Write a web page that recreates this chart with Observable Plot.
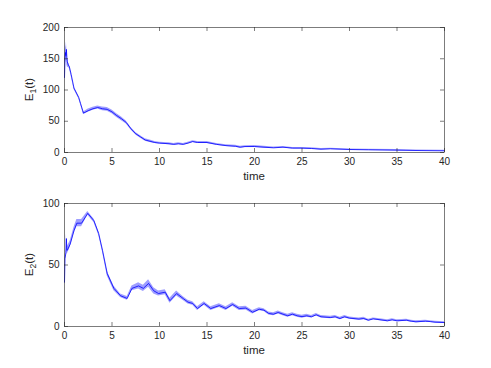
<!DOCTYPE html>
<html><head><meta charset="utf-8">
<script src="https://cdn.jsdelivr.net/npm/d3@7"></script>
<script src="https://cdn.jsdelivr.net/npm/@observablehq/plot@0.6"></script>
<style>body{margin:0;background:#fff} #c{width:491px;height:368px;} svg{display:block}</style>
</head><body><div id="c"></div><script>
const xTicks = [0,5,10,15,20,25,30,35,40];
const y1Ticks = [0,50,100,150,200];
const y2Ticks = [0,50,100];

const t1 = [0,0.05,0.1,0.15,0.2,0.25,0.3,0.4,0.5,0.7,1,1.5,1.7,2,2.5,3,3.5,4,4.5,5,5.5,6,6.5,7,7.5,8,8.5,9,9.5,10,11,11.5,12,12.5,13,13.5,14,15,16,17,18,18.5,19,20,21,22,23,24,25,26,27,28,30,32,35,37,40];
const e1 = [120,150,160,155,165,152,145,140,138,125,103,88,78,63,67,70,72,70,69,65,59,54,48,38,30,25,20,18,16,15,14,13,14,13,15,17.5,16,16,13,11,10,8.5,9.5,9.6,8.5,7.5,8.5,7,7,6.4,5.3,5.9,4.8,4.3,3.7,3.2,2.7];
const e1Amp = [10,12,12,12,12,12,8,4,3,2.5,2,2,2,2,2.5,2.5,2.5,3,3,3,3,3,2.5,2,2,2,2,2,1.5,1.5,1.5,1.5,1.5,1.5,1.5,1.5,1.5,1.5,1.5,1.5,1.5,1.5,1.5,1.5,1.5,1.2,1.2,1.2,1.2,1.2,1.2,1,1,1,1,0.8,0.8];

const t2 = [0,0.05,0.15,0.2,0.25,0.3,0.6,1,1.3,1.8,2.45,3.1,3.6,4,4.5,5.2,5.9,6.6,7.1,7.8,8.3,8.85,9.4,9.9,10.6,11.1,11.8,12.5,13,13.5,14,14.7,15.4,16.3,17,17.7,18.4,19.1,19.8,20.5,21,21.5,22,22.5,23,23.5,24,24.5,25,25.5,26,26.5,27,28,28.5,29,29.5,30,31,31.5,32,32.5,33,34,34.5,35,36,36.5,37,38,38.5,39,40];
const e2 = [36,55,60,71.5,62,62,67,78,84,84,92,86,75.6,62,43,31,25,22.8,31,33,31,35,29,26.8,27.9,21,26.8,22.7,19.8,18.7,14.6,18.7,14.6,17,14.6,17.9,14.6,15,11.6,14,13.3,10.6,10,11.4,10,8.7,10,8.7,8,8.7,7.9,9.5,7.9,7.3,7.9,6.5,7.9,6.8,6,6.5,5.1,6.2,5.7,4.6,5.4,4.6,5.1,4.3,3.8,4.3,4,3.5,3.2];
const e2Amp = [2,2,3,4,3,3,2.5,2.5,3,3,1.5,1.5,1.5,1.5,2,2,1.5,1.5,2,2.5,2.5,3,2.5,2,2,2,2,1.5,1.5,1.5,1.5,1.5,1.5,1.5,1.5,1.5,1.5,1.5,1.5,1.2,1.2,1.2,1.2,1.2,1.2,1.2,1.2,1.2,1.2,1.2,1,1,1,1,1,1,1,1,1,1,0.8,0.8,0.8,0.8,0.8,0.8,0.8,0.8,0.8,0.8,0.7,0.7,0.7];

const W = 491, H = 184, ML = 64, MR = 47;
const FONT = "'Liberation Sans', Arial, Helvetica, sans-serif";
const AX = "#262626";

function panel(t, v, a, yDomain, yTicks, sub, mt, mb) {
  const data = t.map((x, i) => ({t: x, v: v[i], lo: v[i] - a[i], hi: v[i] + a[i]}));
  const ph = H - mt - mb, pw = W - ML - MR;
  const svg = Plot.plot({
    width: W, height: H, marginLeft: ML, marginRight: MR, marginTop: mt, marginBottom: mb,
    style: {fontFamily: FONT, fontSize: "10px", color: AX, background: "white"},
    x: {domain: [0, 40]},
    y: {domain: yDomain},
    marks: [
      Plot.areaY(data, {x: "t", y1: "lo", y2: "hi", fill: "#0000ff", fillOpacity: 0.38}),
      Plot.lineY(data, {x: "t", y: "v", stroke: "#0000ff", strokeWidth: 0.8}),
      Plot.ruleX(xTicks, {x: d => d, stroke: AX, strokeWidth: 0.6, insetTop: ph - 4}),
      Plot.ruleX(xTicks, {x: d => d, stroke: AX, strokeWidth: 0.6, insetBottom: ph - 4}),
      Plot.ruleY(yTicks, {y: d => d, stroke: AX, strokeWidth: 0.6, insetRight: pw - 4}),
      Plot.ruleY(yTicks, {y: d => d, stroke: AX, strokeWidth: 0.6, insetLeft: pw - 4}),
      Plot.frame({stroke: AX, strokeWidth: 0.6}),
      Plot.axisX(xTicks, {tickSize: 0, tickPadding: 5, label: null, fill: AX}),
      Plot.axisY(yTicks, {tickSize: 0, tickPadding: 5, label: null, fill: AX})
    ]
  });
  const s = d3.select(svg);
  s.append("text").attr("x", ML + pw / 2).attr("y", mt + ph + 25)
    .attr("text-anchor", "middle").attr("dominant-baseline", "middle")
    .attr("font-family", FONT).attr("font-size", 11.5).attr("fill", AX).text("time");
  const yl = s.append("text")
    .attr("transform", `translate(33,${mt + ph / 2}) rotate(-90)`)
    .attr("text-anchor", "middle")
    .attr("font-family", FONT).attr("font-size", 11.5).attr("fill", AX);
  yl.append("tspan").text("E");
  yl.append("tspan").attr("dy", 3).attr("font-size", 8.5).text(sub);
  yl.append("tspan").attr("dy", -3).text("(t)");
  return svg;
}

const c = document.getElementById("c");
c.appendChild(panel(t1, e1, e1Amp, [0, 200], y1Ticks, "1", 27, 32));
c.appendChild(panel(t2, e2, e2Amp, [0, 100], y2Ticks, "2", 19, 42));
</script></body></html>
